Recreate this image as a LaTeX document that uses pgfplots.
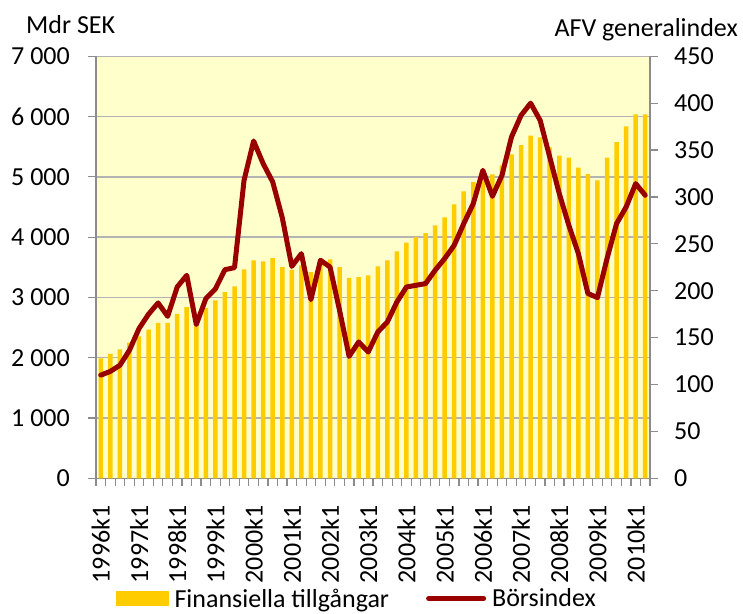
\documentclass[border=0pt]{standalone}
\usepackage{pgfplots}
\pgfplotsset{compat=1.18}
\usepackage{fontspec}
\setmainfont{Carlito}
\definecolor{baryellow}{HTML}{FFCC00}
\definecolor{bgyellow}{HTML}{FFFFCC}
\definecolor{linered}{HTML}{990000}
\definecolor{gridgray}{HTML}{B4B4B4}
\definecolor{axisgray}{HTML}{8C8C8C}
\pgfplotstableread{
i v
0 1990
1 2065
2 2138
3 2250
4 2355
5 2465
6 2578
7 2578
8 2728
9 2838
10 2650
11 2828
12 2952
13 3088
14 3184
15 3466
16 3615
17 3600
18 3654
19 3505
20 3463
21 3530
22 3418
23 3600
24 3630
25 3505
26 3325
27 3336
28 3367
29 3516
30 3615
31 3765
32 3908
33 4002
34 4068
35 4196
36 4328
37 4544
38 4760
39 4912
40 4980
41 5041
42 5191
43 5373
44 5527
45 5683
46 5655
47 5490
48 5354
49 5318
50 5153
51 5047
52 4942
53 5318
54 5577
55 5837
56 6036
57 6036
}\assets
\pgfplotstableread{
i v
0 110
1 114
2 120.5
3 136.5
4 159.6
5 175
6 187
7 172.7
8 204
9 216.5
10 164
11 191.6
12 202
13 222.5
14 224.6
15 317.8
16 359.7
17 335.6
18 316
19 278
20 226
21 239.6
22 190.5
23 232.5
24 225.3
25 179
26 130
27 145.4
28 134.7
29 156
30 166.7
31 188
32 204
33 205.8
34 207.6
35 221.8
36 234.3
37 248.5
38 271.6
39 293
40 328.4
41 300.7
42 323
43 364
44 387
45 400
46 381.7
47 342.6
48 303.6
49 269.8
50 239.6
51 197
52 192.7
53 234.3
54 271.6
55 289.3
56 314.2
57 301.8
}\borsindex
\begin{document}
\begin{tikzpicture}[font=\fontsize{26}{31}\selectfont]
\useasboundingbox (0,0) rectangle (743pt,613pt);
\begin{axis}[
  at={(96pt,134.7pt)}, anchor=south west, scale only axis,
  width=554pt, height=422pt,
  xmin=-0.5, xmax=57.5, ymin=0, ymax=7000,
  axis x line*=bottom, axis y line*=left,
  axis line style={draw=axisgray, line width=1.5pt},
  axis background/.style={fill=bgyellow},
  ytick={0,1000,...,7000},
  yticklabels={0,1 000,2 000,3 000,4 000,5 000,6 000,7 000},
  ymajorgrids, grid style={draw=gridgray, line width=1.5pt},
  xtick={0,4,...,56},
  xticklabels={1996k1,1997k1,1998k1,1999k1,2000k1,2001k1,2002k1,2003k1,2004k1,2005k1,2006k1,2007k1,2008k1,2009k1,2010k1},
  minor xtick={-0.5,0.5,...,57.5},
  major x tick style={draw=none},
  tick align=outside, major tick length=8pt, minor tick length=8pt,
  tick style={draw=axisgray, line width=1.2pt},
  tick label style={font=\fontsize{26}{31}\selectfont, inner sep=0pt},
  yticklabel style={anchor=east},
  xticklabel style={rotate=90, anchor=east},
  yticklabel shift=18pt,
  xticklabel shift=19pt,
  ybar, bar width=4.5pt,
]
\addplot[fill=baryellow, draw=none] table[x=i, y=v] {\assets};
\end{axis}
\begin{axis}[
  at={(96pt,134.7pt)}, anchor=south west, scale only axis,
  width=554pt, height=422pt,
  xmin=-0.5, xmax=57.5, ymin=0, ymax=450,
  axis x line=none, axis y line*=right,
  axis line style={draw=axisgray, line width=1.5pt},
  ytick={0,50,...,450},
  yticklabels={0,50,100,150,200,250,300,350,400,450},
  tick align=outside, major tick length=8pt,
  tick style={draw=axisgray, line width=1.2pt},
  tick label style={font=\fontsize{26}{31}\selectfont, inner sep=0pt},
  yticklabel style={anchor=west},
  yticklabel shift=16pt,
  legend columns=2,
  legend style={at={(0.036,-0.285)}, anchor=west, draw=none, fill=none,
    inner sep=0pt, font=\fontsize{26}{31}\selectfont,
    nodes={inner sep=0pt},
    /tikz/every odd column/.append style={column sep=6pt},
    /tikz/every even column/.append style={column sep=37pt}},
]
\addlegendimage{legend image code/.code={\fill[baryellow] (0pt,-7pt) rectangle (52pt,7pt);}}
\addlegendentry{Finansiella tillgångar}
\addplot[draw=linered, line width=5pt, line join=round, line cap=round,
  legend image code/.code={\draw[linered, line width=5pt, line cap=round] (0pt,0pt) -- (55pt,0pt);}]
  table[x=i, y=v] {\borsindex};
\addlegendentry{Börsindex}
\end{axis}
\node[anchor=base west, inner sep=0pt] at (26pt,579pt) {Mdr SEK};
\node[anchor=base east, inner sep=0pt] at (738pt,576.5pt) {AFV generalindex};
\end{tikzpicture}
\end{document}
